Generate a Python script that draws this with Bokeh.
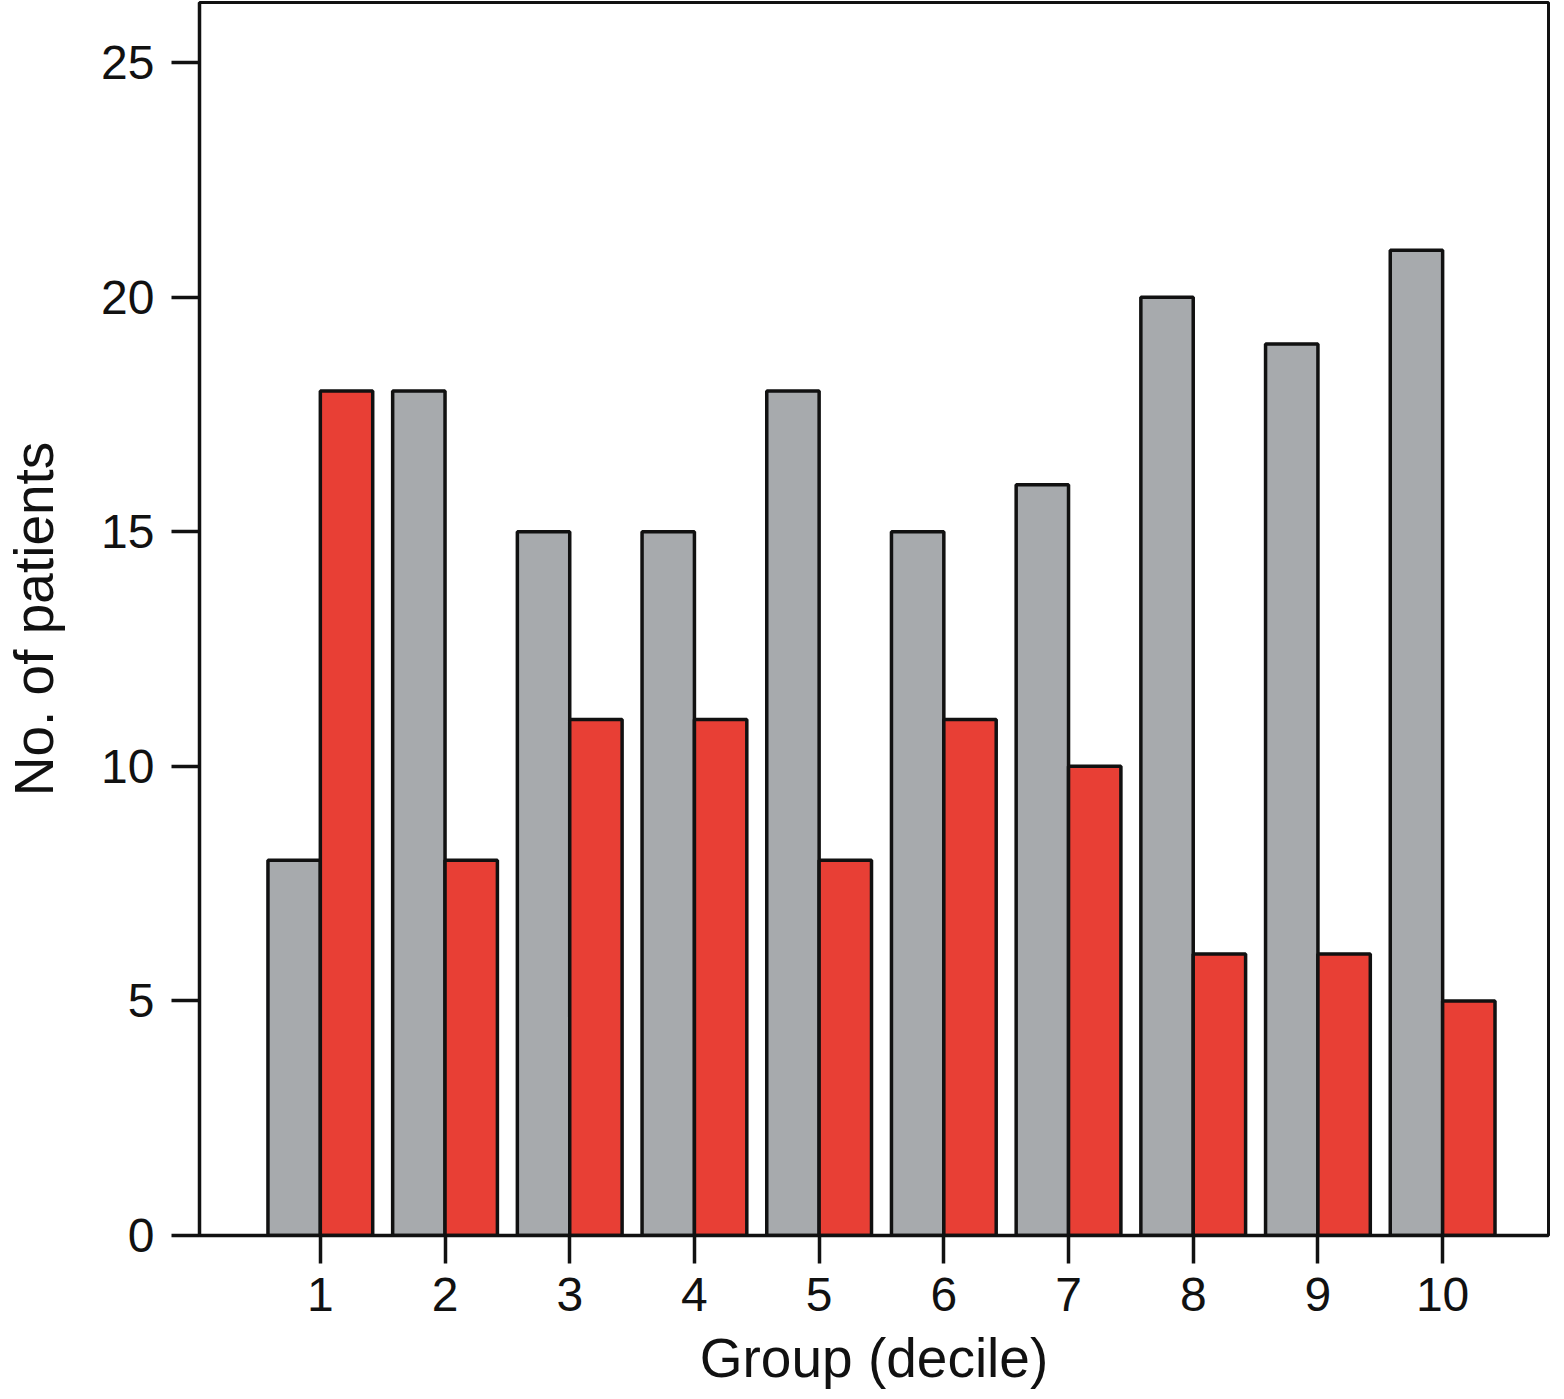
from bokeh.plotting import figure
from bokeh.models import ColumnDataSource, FixedTicker, Range1d
from bokeh.transform import dodge
from bokeh.embed import file_html
from bokeh.resources import INLINE

groups = [1, 2, 3, 4, 5, 6, 7, 8, 9, 10]
gray_values = [8, 18, 15, 15, 18, 15, 16, 20, 19, 21]
red_values = [18, 8, 11, 11, 8, 11, 10, 6, 6, 5]
y_ticks = [0, 5, 10, 15, 20, 25]

src = ColumnDataSource(dict(x=groups, gray=gray_values, red=red_values))

p = figure(width=1556, height=1391, output_backend="svg", toolbar_location=None,
           x_range=Range1d(0.031, 10.849), y_range=Range1d(0, 26.28),
           min_border_left=197, min_border_right=8, min_border_top=2, min_border_bottom=154)

p.vbar(x=dodge("x", -0.21, range=p.x_range), top="gray", width=0.42, bottom=0, source=src,
       fill_color="#A7AAAD", line_color="#111111", line_width=3.5)
p.vbar(x=dodge("x", 0.21, range=p.x_range), top="red", width=0.42, bottom=0, source=src,
       fill_color="#E83F35", line_color="#111111", line_width=3.5)

p.xgrid.visible = False
p.ygrid.visible = False
p.outline_line_color = "#111111"
p.outline_line_width = 3

font = "Liberation Sans"
for ax in (p.xaxis[0], p.yaxis[0]):
    ax.axis_line_width = 3.5
    ax.axis_line_color = "#111111"
    ax.major_tick_line_width = 3.5
    ax.major_tick_line_color = "#111111"
    ax.major_tick_in = 0
    ax.major_tick_out = 28
    ax.minor_tick_line_color = None
    ax.major_label_text_font = font
    ax.major_label_text_font_size = "48px"
    ax.major_label_text_color = "#111111"
    ax.axis_label_text_font = font
    ax.axis_label_text_font_size = "55px"
    ax.axis_label_text_font_style = "normal"
    ax.axis_label_text_color = "#111111"

p.xaxis.ticker = FixedTicker(ticks=groups)
p.yaxis.ticker = FixedTicker(ticks=y_ticks)
p.xaxis.axis_label = "Group (decile)"
p.yaxis.axis_label = "No. of patients"
p.xaxis.major_label_standoff = 14
p.yaxis.major_label_standoff = 17
p.xaxis.axis_label_standoff = 13
p.yaxis.axis_label_standoff = 33

open("out.html", "w").write(file_html(p, INLINE))
